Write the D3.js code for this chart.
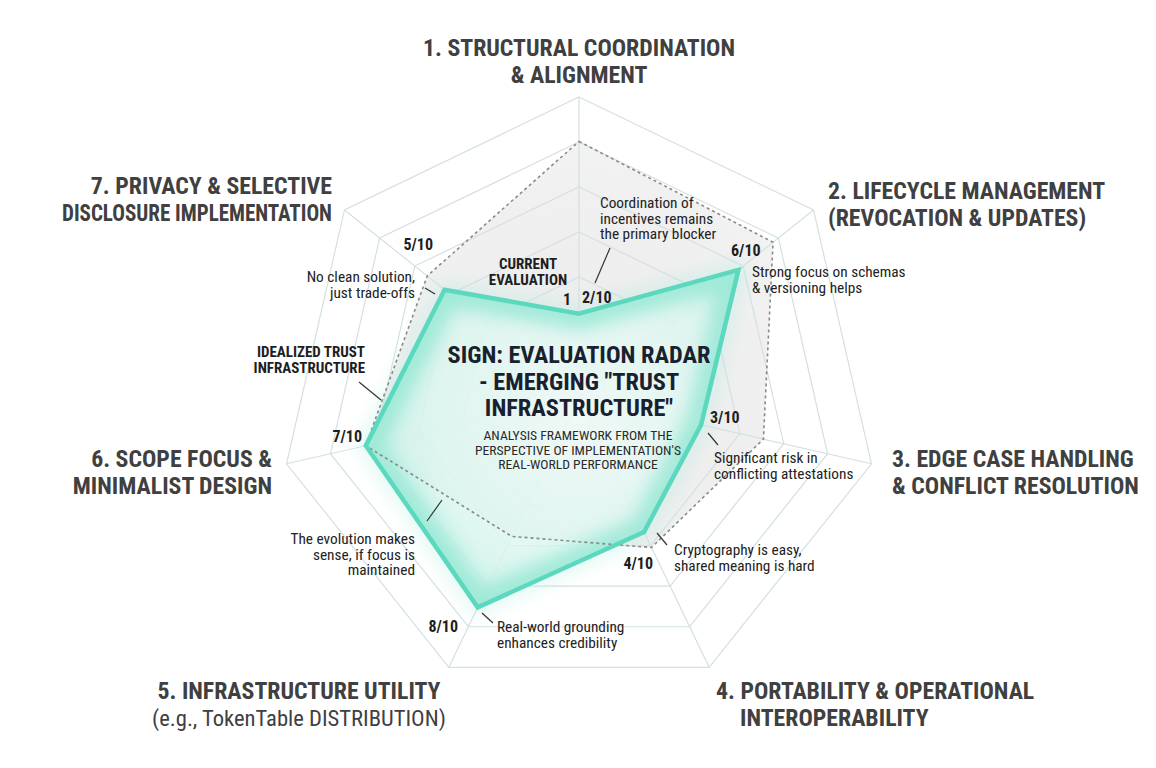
<!DOCTYPE html>
<html>
<head>
<meta charset="utf-8">
<script src="https://cdn.jsdelivr.net/npm/d3@7"></script>
<style>
  body { margin: 0; background: #fff; }
  svg text { font-family: "Roboto Condensed", Roboto, "Liberation Sans", sans-serif; }
</style>
</head>
<body>
<svg id="chart" width="1156" height="768"></svg>
<script>
// ---- data ----
const axisTitles = [
  ["1. STRUCTURAL COORDINATION", "& ALIGNMENT"],
  ["2. LIFECYCLE MANAGEMENT", "(REVOCATION & UPDATES)"],
  ["3. EDGE CASE HANDLING", "& CONFLICT RESOLUTION"],
  ["4. PORTABILITY & OPERATIONAL", "INTEROPERABILITY"],
  ["5. INFRASTRUCTURE UTILITY", "(e.g., TokenTable DISTRIBUTION)"],
  ["6. SCOPE FOCUS &", "MINIMALIST DESIGN"],
  ["7. PRIVACY & SELECTIVE", "DISCLOSURE IMPLEMENTATION"],
];
// positions as drawn in the picture (score scale 0-10)
const currentScores = [1.5, 6.4, 3.2, 4.2, 7.6, 7.0, 5.1];
const idealScores = [8.5, 8.2, 5.8, 4.9, 4.4, 7.0, 6.0];
const scoreLabels = ["2/10", "6/10", "3/10", "4/10", "8/10", "7/10", "5/10"];
const notes = [
  ["Coordination of", "incentives remains", "the primary blocker"],
  ["Strong focus on schemas", "& versioning helps"],
  ["Significant risk in", "conflicting attestations"],
  ["Cryptography is easy,", "shared meaning is hard"],
  ["Real-world grounding", "enhances credibility"],
  ["The evolution makes", "sense, if focus is", "maintained"],
  ["No clean solution,", "just trade-offs"],
];
const gridLevels = [1, 0.85, 0.7, 0.55, 0.4, 0.25, 0.1];
const titleLines = ["SIGN: EVALUATION RADAR", "- EMERGING \"TRUST", "INFRASTRUCTURE\""];
const subtitleLines = ["ANALYSIS FRAMEWORK FROM THE", "PERSPECTIVE OF IMPLEMENTATION'S", "REAL-WORLD PERFORMANCE"];

// ---- layout ----
const cx = 579, cy = 397, R = 300;

const svg = d3.select("#chart");
const n = axisTitles.length;
const angle = d3.scaleLinear().domain([0, n]).range([-Math.PI / 2, 1.5 * Math.PI]);
const rScale = d3.scaleLinear().domain([0, 10]).range([R * 0.155, R * 0.975]);
const pt = (i, r) => [cx + r * Math.cos(angle(i)), cy + r * Math.sin(angle(i))];
const poly = d3.line().curve(d3.curveLinearClosed);

const defs = svg.append("defs");
defs.append("filter").attr("id", "blur").attr("x", "-30%").attr("y", "-30%")
  .attr("width", "160%").attr("height", "160%")
  .append("feGaussianBlur").attr("stdDeviation", 9);
const rg = defs.append("radialGradient").attr("id", "mint")
  .attr("gradientUnits", "userSpaceOnUse").attr("cx", cx).attr("cy", cy + 20).attr("r", 240);
rg.append("stop").attr("offset", "0%").attr("stop-color", "#f0fbf8");
rg.append("stop").attr("offset", "60%").attr("stop-color", "#dcf6ef");
rg.append("stop").attr("offset", "100%").attr("stop-color", "#bdefe2");
const gg = defs.append("radialGradient").attr("id", "gray")
  .attr("gradientUnits", "userSpaceOnUse").attr("cx", cx).attr("cy", cy).attr("r", 260);
gg.append("stop").attr("offset", "0%").attr("stop-color", "#eaeaea");
gg.append("stop").attr("offset", "100%").attr("stop-color", "#f2f2f2");

const currentPts = currentScores.map((v, i) => pt(i, rScale(v)));
const idealPts = idealScores.map((v, i) => pt(i, rScale(v)));
defs.append("clipPath").attr("id", "inside").append("path").attr("d", poly(currentPts));

// ideal area fill
svg.append("path").attr("d", poly(idealPts)).attr("fill", "url(#gray)");

// grid
const grid = svg.append("g").attr("stroke", "#d4e0e2").attr("stroke-width", 1.2).attr("fill", "none");
gridLevels.forEach(f => {
  grid.append("path").attr("d", poly(d3.range(n).map(i => pt(i, R * f))));
});
d3.range(n).forEach(i => {
  const p = pt(i, R);
  grid.append("line").attr("x1", cx).attr("y1", cy).attr("x2", p[0]).attr("y2", p[1]);
});

// current area with glow
svg.append("path").attr("d", poly(currentPts)).attr("fill", "url(#mint)").attr("opacity", 0.85);
svg.append("path").attr("d", poly(currentPts)).attr("fill", "none")
  .attr("stroke", "#8fe6d2").attr("stroke-width", 30).attr("opacity", 0.8)
  .attr("filter", "url(#blur)").attr("clip-path", "url(#inside)");
svg.append("path").attr("d", poly(currentPts)).attr("fill", "none")
  .attr("stroke", "#a8ecdc").attr("stroke-width", 10).attr("opacity", 0.55)
  .attr("filter", "url(#blur)");

// ideal dashed outline
svg.append("path").attr("d", poly(idealPts)).attr("fill", "none")
  .attr("stroke", "#8a8a8a").attr("stroke-width", 1.6).attr("stroke-dasharray", "3,3");

// current outline
svg.append("path").attr("d", poly(currentPts)).attr("fill", "none")
  .attr("stroke", "#5cd8be").attr("stroke-width", 4.5).attr("stroke-linejoin", "miter");

// ---- text helper ----
function label(x, y, lines, o) {
  const t = svg.append("text")
    .attr("text-anchor", o.anchor || "start")
    .attr("font-size", o.size)
    .attr("font-weight", o.weight || 400)
    .attr("fill", o.color || "#222");
  lines.forEach((s, i) => {
    const tsp = t.append("tspan").attr("x", x + ((o.xs && o.xs[i]) || 0)).attr("y", y + i * o.lh).text(s);
    if (o.weights) tsp.attr("font-weight", o.weights[i]);
    if (o.sizes) tsp.attr("font-size", o.sizes[i]);
    if (o.lengths && o.lengths[i]) tsp.attr("textLength", o.lengths[i]).attr("lengthAdjust", "spacingAndGlyphs");
  });
  return t;
}

// axis titles
const titlePos = [
  { x: 579, y: 56, anchor: "middle" },
  { x: 828, y: 199 },
  { x: 892, y: 467 },
  { x: 716, y: 699, xs: [0, 24] },
  { x: 299, y: 699, anchor: "middle", weights: [700, 400], sizes: [23.8, 22.6] },
  { x: 272, y: 467, anchor: "end" },
  { x: 332, y: 194, anchor: "end", lengths: [0, 270] },
];
axisTitles.forEach((lines, i) => {
  const p = titlePos[i];
  label(p.x, p.y, lines, { size: 23.8, lh: 26.5, weight: 700, color: "#404040", ...p });
});

// score labels
const scorePos = [
  { x: 582, y: 303 }, { x: 731, y: 256 }, { x: 710, y: 423 },
  { x: 653, y: 569, anchor: "end" }, { x: 458, y: 632, anchor: "end" },
  { x: 362, y: 442, anchor: "end" }, { x: 433, y: 250, anchor: "end" },
];
scoreLabels.forEach((s, i) => {
  const p = scorePos[i];
  label(p.x, p.y, [s], { size: 16, lh: 16, weight: 700, color: "#1e1e1e", anchor: p.anchor });
});
label(571, 305, ["1"], { size: 16, lh: 16, weight: 700, color: "#1e1e1e", anchor: "end" });

// annotations
const notePos = [
  { x: 600, y: 208 }, { x: 752, y: 277 }, { x: 714, y: 463 }, { x: 674, y: 555 },
  { x: 497, y: 632 }, { x: 415, y: 544, anchor: "end" }, { x: 415, y: 282, anchor: "end" },
];
notes.forEach((lines, i) => {
  const p = notePos[i];
  label(p.x, p.y, lines, { size: 15.3, lh: 15.5, color: "#222", anchor: p.anchor });
});
label(528, 269, ["CURRENT", "EVALUATION"], { size: 15, lh: 15.5, weight: 700, color: "#1e1e1e", anchor: "middle" });
label(365, 357, ["IDEALIZED TRUST", "INFRASTRUCTURE"], { size: 15, lh: 15.5, weight: 700, color: "#1e1e1e", anchor: "end" });

// leader lines
const leaders = [
  [[595, 283], [610, 248]], [[708, 433], [718, 445]], [[657, 533], [667, 545]],
  [[482, 613], [493, 623]], [[427, 521], [442, 500]], [[425, 288], [435, 294]],
  [[359, 382], [381, 400]],
];
svg.append("g").selectAll("line").data(leaders).join("line")
  .attr("x1", d => d[0][0]).attr("y1", d => d[0][1])
  .attr("x2", d => d[1][0]).attr("y2", d => d[1][1])
  .attr("stroke", "#333").attr("stroke-width", 1.2);

// center title
label(579, 363, titleLines, { size: 24.3, lh: 26.5, weight: 700, color: "#19202e", anchor: "middle" });
label(578, 440, subtitleLines, { size: 13.6, lh: 14.5, color: "#2a2a2a", anchor: "middle" });
</script>
</body>
</html>
